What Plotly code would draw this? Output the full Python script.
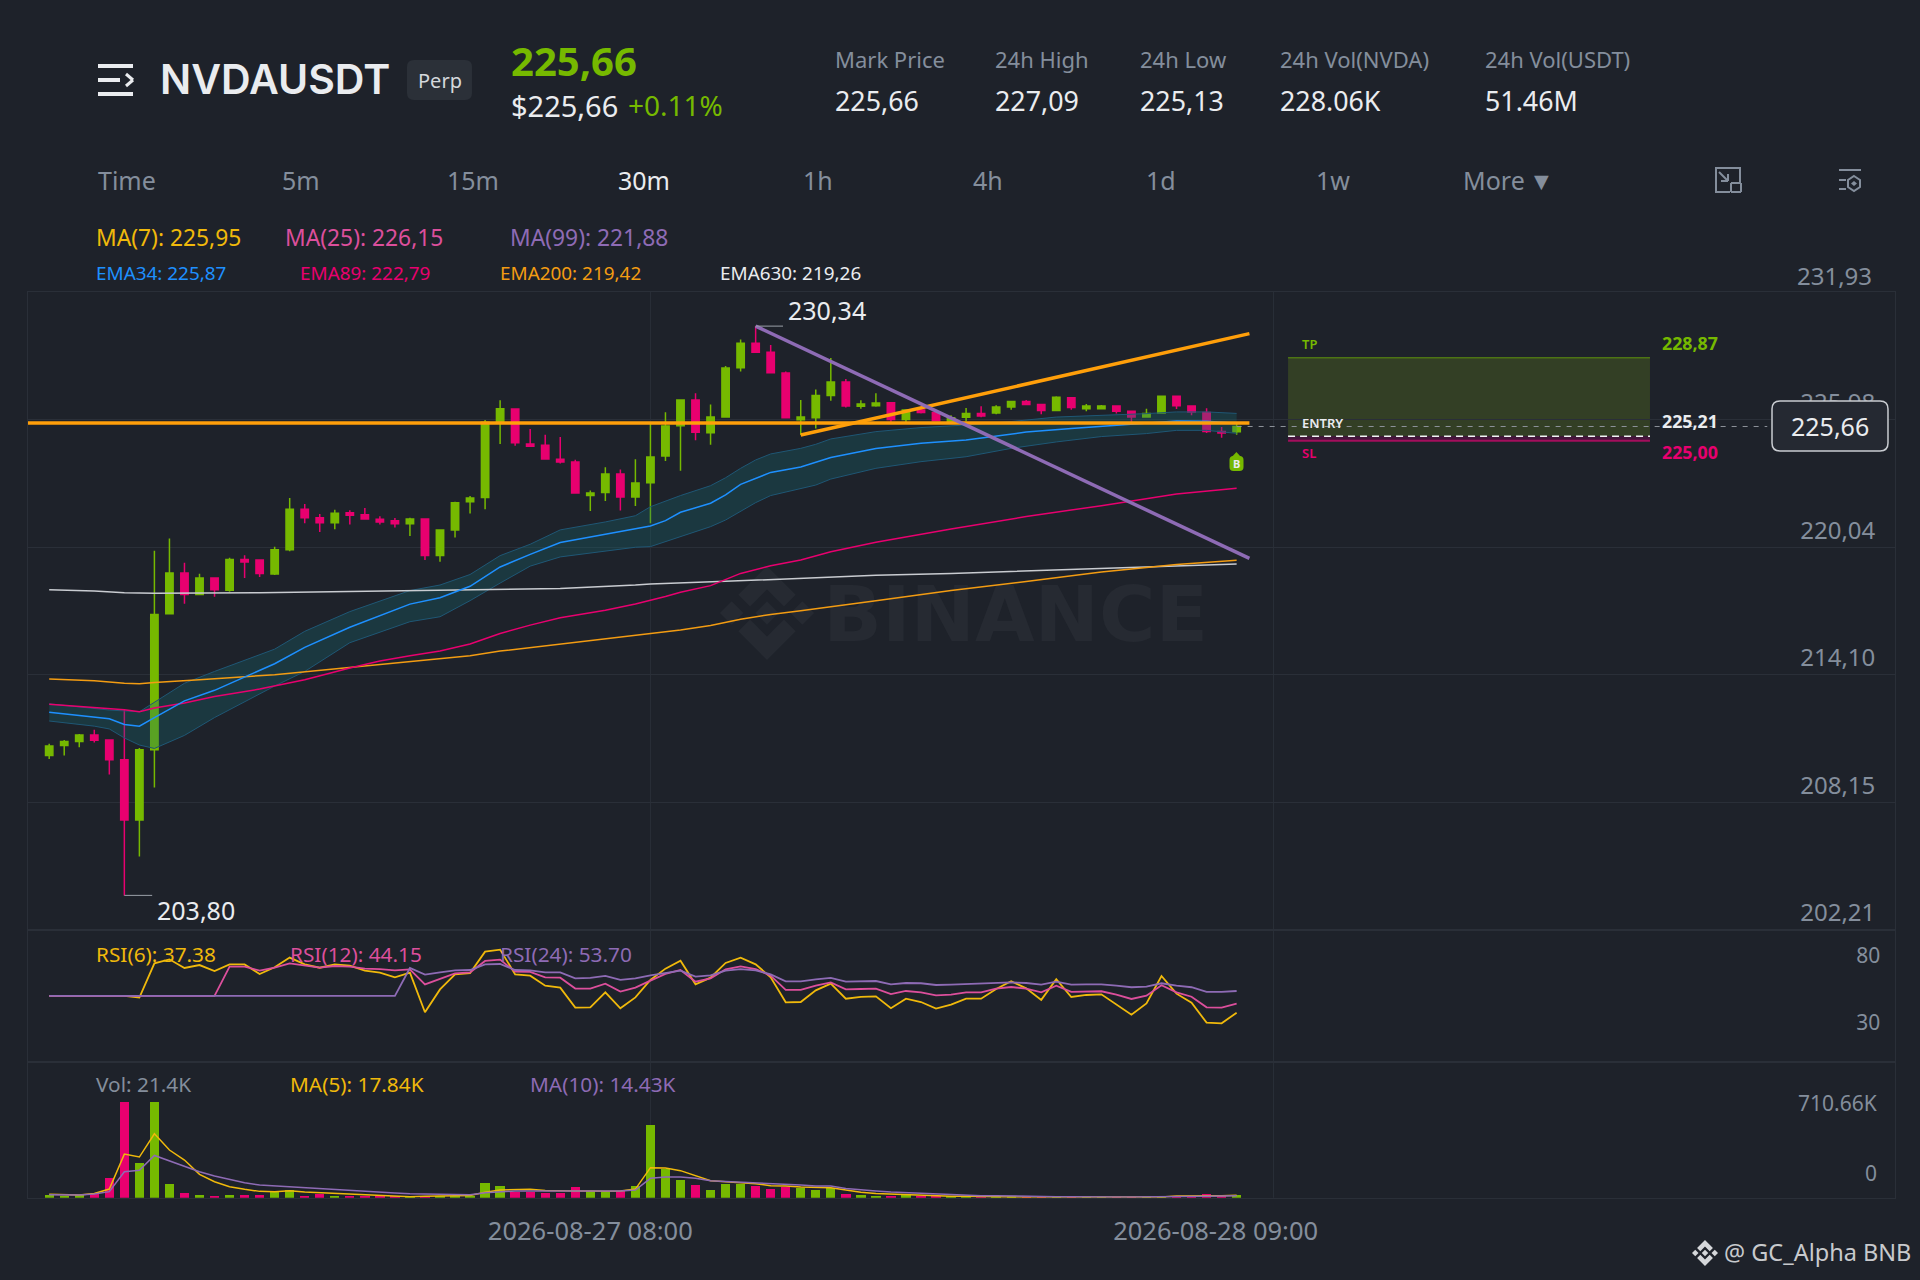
import plotly.graph_objects as go

BG = "#1e222a"
GRID = "#2a2f38"
GREEN = "#76b900"
RED = "#e8006f"
GREY = "#848e9c"
WHITE = "#eaecef"
YELLOW = "#f0b90b"
PINK = "#dc4f9c"
PURPLE = "#8e6bb5"
FONT = "Noto Sans"

# candles
opens = [
    210.32, 210.79, 210.97, 211.28, 211.05, 210.12, 207.32, 210.59, 216.93, 218.83,
    217.83, 218.60, 218.03, 219.46, 219.44, 218.78, 219.91, 221.80, 221.40, 221.17,
    221.64, 221.54, 221.33, 221.27, 221.13, 221.35, 219.64, 220.84, 222.15, 222.35,
    225.86, 226.47, 224.84, 224.78, 224.13, 224.01, 222.44, 222.58, 223.45, 222.37,
    223.04, 224.28, 225.70, 226.90, 225.37, 226.10, 228.40, 229.54, 229.12, 228.15,
    225.98, 226.07, 227.11, 227.73, 226.60, 226.63, 226.77, 225.99, 226.43, 226.31,
    225.90, 226.09, 226.27, 226.29, 226.57, 226.82, 226.68, 226.40, 227.00, 226.49,
    226.49, 226.62, 226.37, 226.10, 226.29, 227.07, 226.62, 226.31, 225.43, 225.42,
]
highs = [
    210.87, 211.05, 211.32, 211.52, 211.05, 212.44, 210.67, 219.87, 220.44, 219.31,
    218.80, 218.60, 219.54, 219.66, 219.44, 220.05, 222.33, 222.05, 221.58, 221.78,
    221.76, 221.86, 221.48, 221.39, 221.40, 221.35, 220.84, 222.15, 222.42, 225.96,
    226.88, 226.47, 225.54, 225.27, 225.17, 224.11, 222.68, 223.76, 223.66, 224.13,
    225.81, 226.32, 226.93, 227.21, 226.69, 228.48, 229.72, 230.34, 229.46, 228.22,
    226.90, 227.39, 228.85, 227.87, 226.88, 227.21, 226.80, 226.46, 226.58, 226.35,
    226.18, 226.52, 226.60, 226.65, 226.85, 226.90, 226.69, 227.07, 227.02, 226.71,
    226.66, 226.62, 226.37, 226.49, 227.07, 227.07, 226.63, 226.51, 225.64, 225.87,
]
lows = [
    210.16, 210.32, 210.71, 210.93, 209.44, 203.80, 205.61, 208.83, 216.89, 217.40,
    217.79, 217.72, 217.95, 218.60, 218.64, 218.74, 219.84, 221.15, 220.74, 220.87,
    221.09, 221.33, 221.09, 220.95, 220.56, 219.44, 219.36, 220.48, 221.60, 221.80,
    224.84, 224.76, 224.72, 224.13, 223.94, 222.54, 221.72, 222.19, 221.74, 221.95,
    221.15, 224.05, 223.60, 225.02, 224.81, 226.07, 228.22, 229.09, 228.15, 226.07,
    225.26, 225.57, 226.86, 226.54, 226.49, 226.58, 225.84, 225.81, 226.26, 225.92,
    225.84, 225.90, 226.09, 226.23, 226.44, 226.65, 226.23, 226.38, 226.44, 226.37,
    226.48, 226.27, 225.81, 226.09, 226.26, 226.48, 226.18, 225.36, 225.14, 225.28,
]
closes = [
    210.77, 210.97, 211.28, 211.03, 210.12, 207.32, 210.59, 216.89, 218.83, 217.83,
    218.60, 218.05, 219.46, 219.34, 218.81, 219.91, 221.80, 221.40, 221.17, 221.62,
    221.52, 221.35, 221.21, 221.13, 221.35, 219.64, 220.84, 222.11, 222.33, 225.86,
    226.49, 224.90, 224.74, 224.15, 224.01, 222.56, 222.56, 223.45, 222.37, 223.03,
    224.24, 225.68, 226.90, 225.39, 226.10, 228.39, 229.54, 229.12, 228.17, 226.07,
    226.10, 227.11, 227.73, 226.62, 226.71, 226.76, 225.99, 226.43, 226.31, 225.93,
    226.07, 226.27, 226.15, 226.57, 226.83, 226.69, 226.40, 227.02, 226.54, 226.62,
    226.62, 226.37, 226.10, 226.27, 227.07, 226.63, 226.34, 225.43, 225.36, 225.66,
]
candle_x = list(range(len(closes)))

# volume and its averages, in thousands
volumes = [
    22, 15, 20, 30, 146, 711, 257, 711, 102, 35,
    17, 15, 17, 17, 17, 42, 57, 15, 25, 15,
    15, 15, 12, 10, 10, 15, 15, 15, 15, 106,
    84, 45, 45, 35, 37, 77, 50, 40, 47, 84,
    540, 215, 131, 97, 57, 102, 99, 89, 64, 79,
    69, 59, 69, 27, 17, 15, 15, 17, 12, 10,
    7, 10, 10, 7, 7, 5, 5, 5, 3, 3,
    3, 3, 3, 3, 5, 5, 5, 25, 10, 21.4,
]
vol_ma5 = [
    25, 20, 20, 32, 64, 324, 302, 475, 354, 280,
    173, 119, 82, 62, 47, 45, 52, 42, 37, 32,
    25, 20, 15, 12, 7, 10, 10, 15, 17, 40,
    57, 62, 62, 54, 50, 50, 50, 47, 50, 64,
    223, 220, 201, 163, 126, 119, 111, 104, 89, 87,
    79, 74, 74, 57, 40, 32, 27, 22, 15, 12,
    10, 10, 7, 7, 5, 5, 5, 5, 3, 3,
    3, 3, 3, 3, 5, 12, 12, 12, 15, 17.84,
]
vol_ma10 = [
    22, 20, 20, 27, 45, 193, 203, 314, 275, 235,
    193, 161, 136, 111, 94, 87, 82, 74, 67, 59,
    52, 47, 40, 35, 30, 27, 25, 22, 22, 37,
    45, 50, 50, 50, 50, 52, 54, 52, 50, 57,
    144, 154, 154, 144, 126, 121, 116, 114, 104, 102,
    94, 87, 87, 69, 57, 50, 42, 37, 32, 27,
    20, 17, 15, 15, 12, 12, 10, 7, 7, 5,
    5, 5, 5, 5, 5, 7, 7, 10, 12, 14.43,
]

# rsi
rsi6 = [
    50, 50, 50, 50, 50, 50, 48.7, 74.5, 77.5, 71.0,
    73.2, 68.7, 73.7, 73.7, 66.5, 71.5, 78.8, 73.7, 71.2, 73.7,
    72.7, 69.0, 67.5, 64.0, 67.5, 37.7, 54.9, 66.2, 67.2, 83.3,
    84.8, 66.2, 65.2, 57.7, 56.2, 41.2, 41.4, 52.7, 40.7, 48.9,
    62.0, 70.5, 76.5, 58.7, 63.7, 74.8, 78.8, 73.7, 64.0, 45.2,
    45.4, 54.2, 59.2, 47.9, 49.2, 49.7, 40.7, 47.9, 45.4, 40.4,
    43.4, 47.9, 47.9, 55.2, 61.0, 55.7, 47.0, 62.5, 49.2, 50.7,
    51.2, 43.4, 35.9, 44.4, 65.0, 51.7, 44.9, 29.9, 29.4, 37.38,
]
rsi12 = [
    50, 50, 50, 50, 50, 50, 50, 50, 50, 50,
    50, 50, 72.0, 72.0, 69.0, 71.2, 74.5, 72.7, 71.2, 72.5,
    72.0, 70.5, 70.2, 69.2, 70.0, 58.7, 63.0, 67.0, 67.7, 76.3,
    77.3, 68.2, 68.0, 64.0, 63.7, 55.5, 55.5, 59.2, 53.2, 56.2,
    61.5, 66.5, 69.5, 60.7, 63.2, 70.0, 72.2, 70.2, 65.2, 54.5,
    54.5, 57.7, 60.2, 54.9, 55.2, 55.5, 51.4, 53.7, 52.7, 50.4,
    50.9, 52.7, 52.7, 55.5, 56.7, 55.5, 52.7, 57.7, 53.0, 53.5,
    53.5, 50.9, 47.7, 50.2, 58.0, 52.7, 49.4, 41.4, 41.2, 44.15,
]
rsi24 = [
    50, 50, 50, 50, 50, 50, 50, 50, 50, 50,
    50, 50, 50, 50, 50, 50, 50, 50, 50, 50,
    50, 50, 50, 50, 71.0, 66.0, 67.7, 69.2, 69.5, 73.7,
    74.0, 69.5, 69.2, 67.7, 67.7, 63.2, 63.5, 65.0, 62.0, 63.2,
    65.5, 67.0, 69.0, 64.5, 65.5, 69.0, 70.2, 69.2, 66.2, 61.0,
    61.0, 62.5, 63.5, 60.7, 61.0, 61.2, 58.7, 59.7, 59.5, 58.2,
    58.5, 59.0, 59.0, 59.7, 60.2, 59.7, 58.5, 60.7, 58.5, 58.7,
    58.7, 57.7, 56.5, 57.0, 59.5, 57.7, 56.5, 53.0, 53.0, 53.70,
]

# ema lines, read at the candles where they bend
ema34_x = [0, 4, 5, 6, 7, 9, 11, 15, 17, 20, 24, 26, 28, 30, 32, 34, 37, 39, 40, 41, 42, 44, 45, 46, 48, 50, 52, 55, 58, 61, 63, 65, 68, 72, 75, 77, 79]
ema34 = [212.34, 212.03, 211.77, 211.69, 212.09, 212.87, 213.36, 214.60, 215.36, 216.30, 217.38, 217.68, 218.21, 219.11, 219.70, 220.25, 220.64, 220.91, 221.02, 221.27, 221.66, 222.08, 222.47, 222.96, 223.52, 223.77, 224.21, 224.63, 224.88, 225.03, 225.23, 225.40, 225.57, 225.75, 225.92, 225.90, 225.81]
band_up_x = [0, 4, 6, 7, 9, 11, 15, 17, 20, 24, 26, 28, 30, 32, 34, 37, 39, 40, 42, 44, 45, 46, 47, 48, 50, 51, 52, 55, 58, 61, 64, 67, 70, 73, 75, 77, 79]
band_up = [212.73, 212.44, 212.36, 212.81, 213.69, 214.24, 215.28, 216.11, 217.03, 218.01, 218.27, 218.76, 219.64, 220.17, 220.84, 221.21, 221.50, 221.92, 222.44, 222.90, 223.27, 223.71, 224.10, 224.38, 224.64, 224.83, 225.08, 225.42, 225.61, 225.73, 225.89, 226.10, 226.17, 226.26, 226.34, 226.34, 226.27]
band_low_x = [0, 3, 4, 5, 6, 7, 9, 11, 15, 17, 20, 24, 26, 28, 30, 32, 34, 37, 39, 40, 42, 44, 45, 46, 47, 48, 50, 51, 52, 55, 58, 61, 64, 67, 70, 73, 75, 77, 79]
band_low = [211.93, 211.69, 211.56, 211.14, 210.81, 210.65, 211.26, 212.09, 213.56, 214.24, 215.58, 216.56, 216.79, 217.54, 218.36, 219.15, 219.58, 219.84, 220.03, 220.06, 220.51, 220.99, 221.30, 221.69, 222.11, 222.44, 222.78, 222.93, 223.21, 223.71, 224.02, 224.25, 224.64, 224.94, 225.19, 225.33, 225.48, 225.48, 225.34]
ema89_x = [0, 5, 6, 7, 9, 11, 14, 15, 17, 20, 22, 24, 26, 28, 30, 32, 34, 37, 39, 41, 42, 44, 46, 48, 50, 52, 55, 60, 65, 70, 75, 79]
ema89 = [212.71, 212.46, 212.36, 212.54, 212.77, 213.07, 213.42, 213.56, 213.85, 214.40, 214.73, 214.97, 215.19, 215.52, 216.01, 216.40, 216.74, 217.09, 217.38, 217.73, 217.93, 218.24, 218.81, 219.17, 219.44, 219.82, 220.26, 220.88, 221.46, 221.97, 222.51, 222.78]
ema200_x = [0, 3, 5, 6, 7, 10, 15, 20, 24, 26, 28, 30, 34, 39, 42, 44, 46, 48, 50, 55, 60, 65, 70, 75, 79]
ema200 = [213.89, 213.81, 213.69, 213.67, 213.73, 213.85, 214.09, 214.44, 214.71, 214.83, 214.97, 215.19, 215.52, 215.91, 216.17, 216.38, 216.67, 216.90, 217.07, 217.54, 218.01, 218.43, 218.88, 219.23, 219.42]
ema630_x = [0, 3, 5, 7, 14, 20, 28, 34, 39, 40, 45, 50, 55, 60, 65, 70, 75, 79]
ema630 = [218.05, 217.99, 217.91, 217.89, 217.91, 217.97, 218.03, 218.11, 218.27, 218.32, 218.44, 218.58, 218.72, 218.81, 218.92, 219.05, 219.16, 219.25]

# hand drawn trend lines
level_x = [-1.41, 79.85]
level_y = [225.82, 225.82]
rising_x = [50, 79.85]
rising_y = [225.26, 229.99]
falling_x = [47, 79.85]
falling_y = [230.34, 219.51]

# axis ticks
price_ticks = [231.93, 225.98, 220.04, 214.10, 208.15, 202.21]
price_labels = ["231,93", "225,98", "220,04", "214,10", "208,15", "202,21"]
rsi_ticks = [80, 30]
time_ticks = [36, 77.6]
time_labels = ["2026-08-27 08:00", "2026-08-28 09:00"]
time_grid = [40, 81.45]

# trade box
trade_x = [82.42, 106.5]
tp_price = 228.87
entry_price = 225.21
sl_price = 225.00
last_price = 225.66


def fx(p):
    return p / 1920


def fy(p):
    return 1 - p / 1280


annotations = []
shapes = []


def label(text, x, y, size, color, anchor="left", weight=400, font=FONT):
    # annotations carry a small padding, take it back out
    if anchor == "left":
        x -= 2.4
    elif anchor == "right":
        x += 2.4
    annotations.append(dict(
        text=text, x=fx(x), y=fy(y - 1), xref="paper", yref="paper",
        xanchor=anchor, yanchor="middle", showarrow=False,
        font=dict(family=font, size=size, color=color, weight=weight),
    ))


def seg(x0, y0, x1, y1, color, width):
    shapes.append(dict(
        type="line", xref="paper", yref="paper", layer="above",
        x0=fx(x0), y0=fy(y0), x1=fx(x1), y1=fy(y1),
        line=dict(color=color, width=width),
    ))


def poly(points, color, line_color=None, line_width=0, layer="above"):
    path = "M " + " L ".join(f"{fx(x):.5f},{fy(y):.5f}" for x, y in points) + " Z"
    shapes.append(dict(
        type="path", xref="paper", yref="paper", layer=layer, path=path,
        fillcolor=color, line=dict(color=line_color or color, width=line_width),
    ))


def round_box(x0, y0, x1, y1, r, fill, line_color=None, line_width=0):
    path = (
        f"M {fx(x0 + r):.5f},{fy(y0):.5f} L {fx(x1 - r):.5f},{fy(y0):.5f} "
        f"Q {fx(x1):.5f},{fy(y0):.5f} {fx(x1):.5f},{fy(y0 + r):.5f} "
        f"L {fx(x1):.5f},{fy(y1 - r):.5f} Q {fx(x1):.5f},{fy(y1):.5f} {fx(x1 - r):.5f},{fy(y1):.5f} "
        f"L {fx(x0 + r):.5f},{fy(y1):.5f} Q {fx(x0):.5f},{fy(y1):.5f} {fx(x0):.5f},{fy(y1 - r):.5f} "
        f"L {fx(x0):.5f},{fy(y0 + r):.5f} Q {fx(x0):.5f},{fy(y0):.5f} {fx(x0 + r):.5f},{fy(y0):.5f} Z"
    )
    shapes.append(dict(
        type="path", xref="paper", yref="paper", layer="above", path=path,
        fillcolor=fill, line=dict(color=line_color or fill, width=line_width),
    ))


def binance_logo(cx, cy, r, color, layer="above"):
    for dx in (-0.75, 0, 0.75):
        poly([(cx + (dx - 0.25) * r, cy), (cx + dx * r, cy - 0.25 * r),
              (cx + (dx + 0.25) * r, cy), (cx + dx * r, cy + 0.25 * r)], color, layer=layer)
    for s in (-1, 1):
        poly([(cx, cy + s * r), (cx + 0.61 * r, cy + s * 0.39 * r), (cx + 0.36 * r, cy + s * 0.14 * r),
              (cx, cy + s * 0.5 * r), (cx - 0.36 * r, cy + s * 0.14 * r), (cx - 0.61 * r, cy + s * 0.39 * r)],
             color, layer=layer)


fig = go.Figure()


def line(x, y, color, width, axis=("x", "y"), dash=None):
    fig.add_trace(go.Scatter(
        x=x, y=y, mode="lines", xaxis=axis[0], yaxis=axis[1], showlegend=False,
        hoverinfo="skip", line=dict(color=color, width=width, dash=dash),
    ))


# watermark text goes in first so the lines stay on top of it
fig.add_trace(go.Scatter(
    x=[64.3], y=[216.55], mode="text", text=["BINANCE"], showlegend=False, hoverinfo="skip",
    textposition="middle center",
    textfont=dict(family="DejaVu Sans", size=77, color="#262a32", weight=700),
))

# main panel
fig.add_trace(go.Scatter(
    x=band_up_x, y=band_up, mode="lines", line=dict(color="#1f5775", width=1),
    showlegend=False, hoverinfo="skip",
))
fig.add_trace(go.Scatter(
    x=band_low_x, y=band_low, mode="lines", line=dict(color="#1f5775", width=1),
    fill="tonexty", fillcolor="rgba(24,110,115,0.3)", showlegend=False, hoverinfo="skip",
))
fig.add_trace(go.Candlestick(
    x=candle_x, open=opens, high=highs, low=lows, close=closes, showlegend=False,
    increasing=dict(line=dict(color=GREEN, width=1.5), fillcolor=GREEN),
    decreasing=dict(line=dict(color=RED, width=1.5), fillcolor=RED),
    hoverinfo="skip",
))
line(ema630_x, ema630, "#c9ccd1", 1.5)
line(ema200_x, ema200, "#f39c12", 1.5)
line(ema89_x, ema89, RED, 1.5)
line(ema34_x, ema34, "#1e90ff", 1.5)
line(level_x, level_y, "#ff9f0a", 3.5)
line(rising_x, rising_y, "#ff9f0a", 3.5)
line(falling_x, falling_y, PURPLE, 3.5)
line([47, 48.82], [highs[47], highs[47]], "#9aa0a8", 1)
line([5, 6.85], [lows[5], lows[5]], "#9aa0a8", 1)
line([candle_x[-1], 114.3], [last_price, last_price], "#8d929a", 1, dash="5px,6px")
line(trade_x, [entry_price, entry_price], "#f2f3f5", 1.5, dash="7px,5px")
line(trade_x, [sl_price, sl_price], "#a30e5c", 2)
line(trade_x, [tp_price, tp_price], "#4d7414", 1.5)

shapes.append(dict(type="rect", xref="x", yref="y", layer="below",
                   x0=trade_x[0], x1=trade_x[1], y0=entry_price, y1=tp_price,
                   fillcolor="#333f25", line=dict(width=0)))
shapes.append(dict(type="rect", xref="x", yref="y", layer="below",
                   x0=trade_x[0], x1=trade_x[1], y0=sl_price, y1=entry_price,
                   fillcolor="#45173c", line=dict(width=0)))
for gx in time_grid:
    shapes.append(dict(type="line", xref="x", yref="paper", layer="below",
                       x0=gx, x1=gx, y0=fy(1197.7), y1=fy(292), line=dict(color=GRID, width=1)))

# rsi panel
line(candle_x, rsi6, YELLOW, 1.8, ("x2", "y2"))
line(candle_x, rsi12, PINK, 1.8, ("x2", "y2"))
line(candle_x, rsi24, PURPLE, 1.8, ("x2", "y2"))

# volume panel
fig.add_trace(go.Bar(
    x=candle_x, y=volumes, width=0.62, xaxis="x3", yaxis="y3", showlegend=False, hoverinfo="skip",
    marker=dict(color=[GREEN if c >= o else RED for o, c in zip(opens, closes)], line=dict(width=0)),
))
line(candle_x, vol_ma5, YELLOW, 1.5, ("x3", "y3"))
line(candle_x, vol_ma10, PURPLE, 1.5, ("x3", "y3"))

# header
seg(98, 66, 133, 66, WHITE, 4)
seg(98, 80, 120, 80, WHITE, 4)
seg(98, 94, 133, 94, WHITE, 4)
seg(126, 74, 133, 80, WHITE, 3)
seg(133, 80, 126, 86, WHITE, 3)
label("NVDAUSDT", 160, 80, 41, WHITE, weight=600, font="Inter")
round_box(407, 60, 472, 100, 7, "#2b3038")
label("Perp", 439.5, 82, 20, "#d5d8dc", anchor="center")
label("225,66", 511, 62, 40, GREEN, weight=700)
label("$225,66", 511, 106, 29, WHITE)
label("+0.11%", 628, 106, 28, GREEN)

stat_x = [835, 995, 1140, 1280, 1485]
stat_names = ["Mark Price", "24h High", "24h Low", "24h Vol(NVDA)", "24h Vol(USDT)"]
stat_values = ["225,66", "227,09", "225,13", "228.06K", "51.46M"]
for sx, name, val in zip(stat_x, stat_names, stat_values):
    label(name, sx, 60, 22, GREY)
    label(val, sx, 101, 26.8, WHITE)

tab_x = [98, 282, 447, 618, 803, 973, 1146, 1316, 1463]
tab_names = ["Time", "5m", "15m", "30m", "1h", "4h", "1d", "1w", "More\u2009▼"]
for tx, name in zip(tab_x, tab_names):
    label(name, tx, 181, 25, WHITE if name == "30m" else GREY)

# the two icons on the right of the tabs
for a, b, c, d in [(1715, 168, 1741, 168), (1716, 168, 1716, 192), (1715, 192, 1730, 192), (1740, 168, 1740, 182),
                   (1731, 183, 1741, 183), (1741, 183, 1741, 192), (1741, 192, 1731, 192), (1731, 192, 1731, 183),
                   (1719, 172, 1728, 181), (1728, 174, 1728, 181), (1721, 181, 1728, 181)]:
    seg(a, b, c, d, GREY, 2)
seg(1839, 170, 1861, 170, GREY, 2)
seg(1839, 180, 1846, 180, GREY, 2)
seg(1839, 189, 1846, 189, GREY, 2)
poly([(1854, 176), (1860, 180), (1860, 187), (1854, 191), (1848, 187), (1848, 180)], BG, GREY, 2)
poly([(1854, 181), (1857, 183.5), (1854, 186), (1851, 183.5)], GREY)

# legends
label("MA(7): 225,95", 96, 238, 22.8, YELLOW)
label("MA(25): 226,15", 285, 238, 22.8, PINK)
label("MA(99): 221,88", 510, 238, 22.8, PURPLE)
label("EMA34: 225,87", 96, 274, 18.9, "#1e90ff")
label("EMA89: 222,79", 300, 274, 18.9, RED)
label("EMA200: 219,42", 500, 274, 18.9, "#f39c12")
label("EMA630: 219,26", 720, 274, 18.9, WHITE)
label("RSI(6): 37.38", 96, 955, 20.8, YELLOW)
label("RSI(12): 44.15", 290, 955, 20.8, PINK)
label("RSI(24): 53.70", 500, 955, 20.8, PURPLE)
label("Vol: 21.4K", 96, 1085, 20.8, GREY)
label("MA(5): 17.84K", 290, 1085, 20.8, YELLOW)
label("MA(10): 14.43K", 530, 1085, 20.8, PURPLE)
label("710.66K", 1877, 1104, 21, GREY, anchor="right")
label("0", 1877, 1174, 21, GREY, anchor="right")
label("231,93", 1872, 276, 24, GREY, anchor="right")

# high and low
label("230,34", 788, 311, 25, WHITE)
label("203,80", 157, 911, 25, WHITE)

# trade box texts
label("TP", 1302, 345, 13, GREEN, weight=600)
label("ENTRY", 1302, 424, 13, WHITE, weight=600)
label("SL", 1302, 454, 13, RED, weight=600)
label("228,87", 1662, 344, 17.8, GREEN, weight=700)
label("225,21", 1662, 422, 17.8, WHITE, weight=700)
label("225,00", 1662, 453, 17.8, RED, weight=700)

# last price box
round_box(1772, 401, 1888, 451, 8, "#252932", "#c9ccd1", 1.5)
label("225,66", 1830, 427, 25, WHITE, anchor="center")

# buy marker
poly([(1236.4, 452), (1241, 457), (1231.8, 457)], GREEN)
round_box(1229.5, 456, 1243.5, 471, 4, GREEN)
label("B", 1236.4, 464.5, 11, WHITE, anchor="center", weight=700)

# watermark logo and footer
binance_logo(767, 613, 47, "#262a32", layer="below")
binance_logo(1705, 1253, 13, "#d5d7da")
label("@ GC_Alpha BNB", 1724, 1253, 23.5, "#c8cacd")

x_range = [-1.41, 122.8]
x_common = dict(range=x_range, domain=[fx(28), fx(1895)], showgrid=False, zeroline=False,
                showline=True, mirror=True, linecolor=GRID, linewidth=1)
y_common = dict(side="right", zeroline=False, showline=True, mirror=True, linecolor=GRID, linewidth=1,
                color=GREY, tickfont=dict(family=FONT, size=24, color=GREY))

fig.update_layout(
    width=1920,
    height=1280,
    autosize=False,
    margin=dict(l=0, r=0, t=0, b=0, pad=0),
    paper_bgcolor=BG,
    plot_bgcolor=BG,
    showlegend=False,
    boxgap=0.3,
    boxmode="overlay",
    bargap=0,
    shapes=shapes,
    annotations=annotations,
    font=dict(family=FONT, color=GREY),
    xaxis=dict(x_common, anchor="y", showticklabels=False, rangeslider=dict(visible=False)),
    xaxis2=dict(x_common, anchor="y2", matches="x", showticklabels=False),
    xaxis3=dict(
        x_common, anchor="y3", matches="x", tickmode="array", tickvals=time_ticks, ticktext=time_labels,
        ticks="outside", ticklen=11, tickcolor="rgba(0,0,0,0)", tickfont=dict(family=FONT, size=25.5, color=GREY),
    ),
    yaxis=dict(
        y_common, domain=[fy(929.5), fy(292)], range=[202.21, 231.93], anchor="x",
        tickmode="array", tickvals=price_ticks, ticktext=price_labels,
        showgrid=True, gridcolor=GRID, gridwidth=1,
        ticklabelposition="inside top", ticklabelstandoff=21,
    ),
    yaxis2=dict(
        y_common, domain=[fy(1062), fy(930)], range=[0.3, 99.56], anchor="x2",
        tickmode="array", tickvals=rsi_ticks, showgrid=False, tickfont=dict(family=FONT, size=21, color=GREY),
        ticklabelposition="inside", ticklabelstandoff=16,
    ),
    yaxis3=dict(y_common, domain=[fy(1197.7), fy(1062)], range=[0, 1008], anchor="x3",
                showgrid=False, showticklabels=False),
)

fig.write_html(
    "out.html",
    config=dict(displayModeBar=False),
    post_script=f"document.body.style.margin='0';document.body.style.background='{BG}';",
)
